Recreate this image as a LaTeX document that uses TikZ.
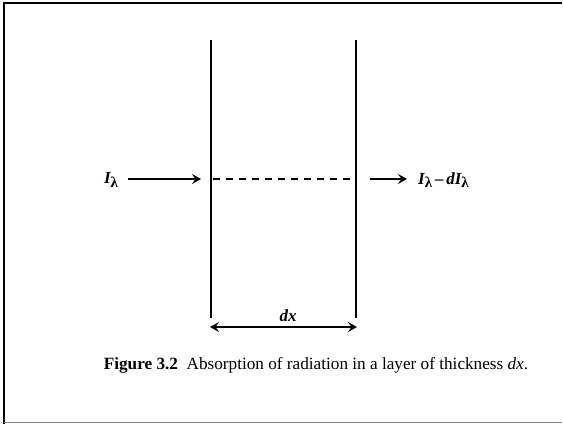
\documentclass[tikz,border=0pt]{standalone}
\usepackage{fontspec}
\setmainfont{Liberation Serif}
\usetikzlibrary{arrows.meta}
\tikzset{
    wall/.style={line width=1.8pt},
    tip/.tip={Stealth[length=9pt, width=10pt, inset=3.5pt]},
    ray/.style={line width=1.4pt, -tip},
    sym/.style={font=\fontsize{17}{19}\selectfont\bfseries\itshape, inner sep=1pt},
    caption/.style={font=\fontsize{17.2}{20}\selectfont, inner sep=0pt}
}
\newcommand{\lamsub}{\raisebox{-0.45ex}{\fontsize{15}{15}\selectfont\bfseries\upshape λ}}
\newcommand{\Ilam}{I\lamsub}

\begin{document}
\begin{tikzpicture}[x=1pt, y=-1pt]
    \useasboundingbox (0,0) rectangle (563,424);
    % frame of the scanned page
    \draw[line width=2pt] (4,424) -- (4,3) -- (562,3);
    \draw[gray, line width=1pt] (4,422.5) -- (562,422.5);

    % the two faces of the layer
    \coordinate (lt) at (211,40);
    \coordinate (lb) at (211,318);
    \coordinate (rt) at (356,40);
    \coordinate (rb) at (356,318);
    \draw[wall] (lt) -- (lb);
    \draw[wall] (rt) -- (rb);

    % beam through the layer
    \coordinate (dl) at (213,179);
    \coordinate (dr) at (354,179);
    \draw[line width=1.2pt, dash pattern=on 7pt off 6pt] (dl) -- (dr);

    \node[sym] (Iin) at (111,180) {\Ilam};
    \coordinate (lhit) at (201,179);
    \draw[ray] ([xshift=9pt]Iin.east |- lhit) -- (lhit);

    \coordinate (rout) at (370,179);
    \node[sym, anchor=west] (Iout) at (417,180) {\Ilam\,–\,dI\lamsub};
    \draw[ray] (rout) -- ([xshift=-10pt]Iout.west |- rout);

    % thickness
    \coordinate (wl) at (210,327);
    \coordinate (wr) at (357,327);
    \draw[ray, tip-tip] (wl) -- (wr);
    \node[sym] (dx) at (288,316) {dx};

    \node[caption] (cap) at (316,365) {\textbf{Figure 3.2}\ \ Absorption of radiation in a layer of thickness \textit{dx}.};
\end{tikzpicture}
\end{document}
